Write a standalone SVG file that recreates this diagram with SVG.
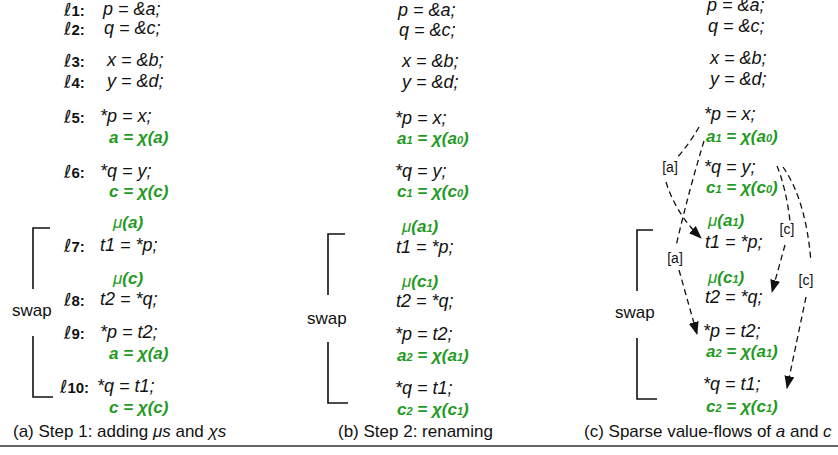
<svg xmlns="http://www.w3.org/2000/svg" width="838" height="455" viewBox="0 0 838 455">
<style>
text{font-family:"Liberation Sans","DejaVu Sans",Arial,sans-serif;}
.c{font-size:18px;font-style:italic;fill:#111;}
.g{font-size:17px;font-style:italic;font-weight:bold;fill:#1f9b1f;}
.mu{font-weight:normal;}
.s{font-size:11px;}
.lab{font-family:"DejaVu Sans",sans-serif;font-size:18px;fill:#111;}
.ln{font-family:"Liberation Sans",Arial,sans-serif;font-size:15px;font-weight:bold;}
.sw{font-size:17px;fill:#111;}
.cap{font-size:17px;fill:#111;}
.lbl{font-size:14px;fill:#111;text-anchor:middle;}
.br{fill:none;stroke:#111;stroke-width:1.6;}
.fl{fill:none;stroke:#111;stroke-width:1.3;stroke-dasharray:6 4;}
</style>
<defs>
<marker id="ah" markerUnits="userSpaceOnUse" markerWidth="13" markerHeight="10" refX="12" refY="5" orient="auto">
<path d="M0,0 L13,5 L0,10 z" fill="#111"/>
</marker>
</defs>

<g id="colA">
<g id="a-labels">
<text class="lab" x="64" y="16">ℓ<tspan class="ln">1:</tspan></text>
<text class="lab" x="64" y="35">ℓ<tspan class="ln">2:</tspan></text>
<text class="lab" x="64" y="67">ℓ<tspan class="ln">3:</tspan></text>
<text class="lab" x="64" y="88">ℓ<tspan class="ln">4:</tspan></text>
<text class="lab" x="64" y="123">ℓ<tspan class="ln">5:</tspan></text>
<text class="lab" x="64" y="178">ℓ<tspan class="ln">6:</tspan></text>
<text class="lab" x="64" y="252">ℓ<tspan class="ln">7:</tspan></text>
<text class="lab" x="64" y="306">ℓ<tspan class="ln">8:</tspan></text>
<text class="lab" x="64" y="339">ℓ<tspan class="ln">9:</tspan></text>
<text class="lab" x="60" y="393">ℓ<tspan class="ln">10:</tspan></text>
</g>
<g id="a-code">
<text class="c" x="103" y="15">p = &amp;a;</text>
<text class="c" x="104" y="34">q = &amp;c;</text>
<text class="c" x="107" y="66">x = &amp;b;</text>
<text class="c" x="107" y="87">y = &amp;d;</text>
<text class="c" x="100" y="122">*p = x;</text>
<text class="g" x="109" y="143">a = χ(a)</text>
<text class="c" x="100" y="177">*q = y;</text>
<text class="g" x="109" y="197">c = χ(c)</text>
<text class="g" x="113" y="228"><tspan class="mu">μ</tspan>(a)</text>
<text class="c" x="100" y="251">t1 = *p;</text>
<text class="g" x="113" y="284"><tspan class="mu">μ</tspan>(c)</text>
<text class="c" x="100" y="305">t2 = *q;</text>
<text class="c" x="100" y="338">*p = t2;</text>
<text class="g" x="109" y="359">a = χ(a)</text>
<text class="c" x="97" y="392">*q = t1;</text>
<text class="g" x="109" y="413">c = χ(c)</text>
</g>
<g id="a-swap">
<path class="br" d="M50,228 H33 V289 M33,336 V397 H53"/>
<text class="sw" x="12" y="316">swap</text>
</g>
<text class="cap" x="13" y="437">(a) Step 1: adding <tspan font-style="italic">μs</tspan> and <tspan font-style="italic">χs</tspan></text>
</g>

<g id="colB">
<g id="b-code">
<text class="c" x="398" y="16">p = &amp;a;</text>
<text class="c" x="399" y="36">q = &amp;c;</text>
<text class="c" x="402" y="67">x = &amp;b;</text>
<text class="c" x="402" y="88">y = &amp;d;</text>
<text class="c" x="395" y="124">*p = x;</text>
<text class="g" x="397" y="144">a<tspan class="s">1</tspan> = χ(a<tspan class="s">0</tspan>)</text>
<text class="c" x="395" y="177">*q = y;</text>
<text class="g" x="397" y="197">c<tspan class="s">1</tspan> = χ(c<tspan class="s">0</tspan>)</text>
<text class="g" x="402" y="232"><tspan class="mu">μ</tspan>(a<tspan class="s">1</tspan>)</text>
<text class="c" x="396" y="253">t1 = *p;</text>
<text class="g" x="402" y="287"><tspan class="mu">μ</tspan>(c<tspan class="s">1</tspan>)</text>
<text class="c" x="396" y="307">t2 = *q;</text>
<text class="c" x="395" y="340">*p = t2;</text>
<text class="g" x="397" y="361">a<tspan class="s">2</tspan> = χ(a<tspan class="s">1</tspan>)</text>
<text class="c" x="395" y="394">*q = t1;</text>
<text class="g" x="397" y="415">c<tspan class="s">2</tspan> = χ(c<tspan class="s">1</tspan>)</text>
</g>
<g id="b-swap">
<path class="br" d="M345,234 H328 V295 M328,342 V403 H348"/>
<text class="sw" x="307" y="324">swap</text>
</g>
<text class="cap" x="338" y="437">(b) Step 2: renaming</text>
</g>

<g id="colC">
<g id="c-code">
<text class="c" x="707" y="11">p = &amp;a;</text>
<text class="c" x="708" y="32">q = &amp;c;</text>
<text class="c" x="710" y="64">x = &amp;b;</text>
<text class="c" x="710" y="85">y = &amp;d;</text>
<text class="c" x="704" y="120">*p = x;</text>
<text class="g" x="706" y="142">a<tspan class="s">1</tspan> = χ(a<tspan class="s">0</tspan>)</text>
<text class="c" x="704" y="173">*q = y;</text>
<text class="g" x="706" y="193">c<tspan class="s">1</tspan> = χ(c<tspan class="s">0</tspan>)</text>
<text class="g" x="708" y="226"><tspan class="mu">μ</tspan>(a<tspan class="s">1</tspan>)</text>
<text class="c" x="705" y="248">t1 = *p;</text>
<text class="g" x="708" y="283"><tspan class="mu">μ</tspan>(c<tspan class="s">1</tspan>)</text>
<text class="c" x="705" y="303">t2 = *q;</text>
<text class="c" x="703" y="337">*p = t2;</text>
<text class="g" x="706" y="357">a<tspan class="s">2</tspan> = χ(a<tspan class="s">1</tspan>)</text>
<text class="c" x="703" y="390">*q = t1;</text>
<text class="g" x="706" y="412">c<tspan class="s">2</tspan> = χ(c<tspan class="s">1</tspan>)</text>
</g>
<g id="c-swap">
<path class="br" d="M653,230 H637 V291 M637,338 V399 H657"/>
<text class="sw" x="615" y="318">swap</text>
</g>
<text class="cap" x="584" y="437">(c) Sparse value-flows of <tspan font-style="italic">a</tspan> and <tspan font-style="italic">c</tspan></text>
</g>

<g id="connectors">
<path class="fl" d="M699,127 Q690,143 676,159"/>
<path class="fl" d="M666,182 Q676,214 701,238" marker-end="url(#ah)"/>
<path class="fl" d="M704,141 Q689,190 676,246"/>
<path class="fl" d="M679,270 L697,334" marker-end="url(#ah)"/>
<path class="fl" d="M777,166 Q786,188 790,221"/>
<path class="fl" d="M785,245 L772,292" marker-end="url(#ah)"/>
<path class="fl" d="M783,167 Q806,200 811,262"/>
<path class="fl" d="M806,297 L787,388" marker-end="url(#ah)"/>
<text class="lbl" x="670" y="172">[a]</text>
<text class="lbl" x="675" y="263">[a]</text>
<text class="lbl" x="787" y="234">[c]</text>
<text class="lbl" x="806" y="285">[c]</text>
</g>

<line x1="0" y1="446" x2="838" y2="446" stroke="#333" stroke-width="1.5"/>
</svg>
